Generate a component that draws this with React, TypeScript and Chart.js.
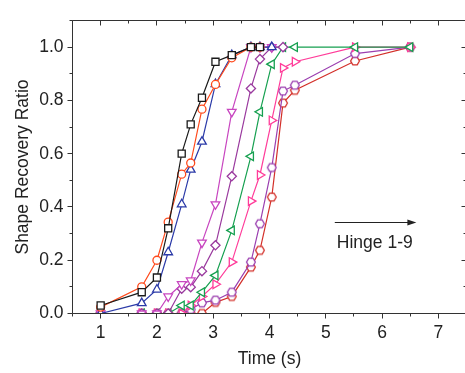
import React, { useEffect, useRef } from 'react';
import { Chart, registerables } from 'chart.js';

Chart.register(...registerables);

// ---- data ----
const TIMES = [1, 1.73, 2.0, 2.2, 2.44, 2.6, 2.8, 3.04, 3.33, 3.67, 3.83, 4.04, 4.24, 4.45, 5.52, 6.5];
const HINGE_1 = [0.03, 0.08, 0.135, 0.32, 0.6, 0.71, 0.81, 0.945, 0.97, 1.0, 1.0, null, null, null, null, null];
const HINGE_2 = [0.024, 0.1, 0.2, 0.343, 0.523, 0.565, 0.767, 0.86, 0.96, 1.0, 1.0, null, null, null, null, null];
const HINGE_3 = [0, 0.039, 0.09, 0.23, 0.41, 0.54, 0.645, 0.861, 0.97, 1.0, 1.0, 1.0, null, null, null, null];
const HINGE_4 = [0, 0, 0, 0.064, 0.11, 0.124, 0.266, 0.41, 0.757, 1.0, 1.0, 1.0, null, null, null, null];
const HINGE_5 = [0, 0, 0, 0, 0.093, 0.099, 0.159, 0.256, 0.515, 0.845, 0.955, 1.0, 1.0, null, null, null];
const HINGE_6 = [0, 0, 0, 0, 0.03, 0.03, 0.08, 0.143, 0.312, 0.59, 0.757, 0.936, 1.0, 1.0, 1.0, 1.0];
const HINGE_7 = [0, 0, 0, 0, 0, 0.03, 0.064, 0.11, 0.193, 0.422, 0.52, 0.725, 0.922, 0.945, 1.0, 1.0];
const HINGE_8 = [0, 0, 0, 0, 0, 0.015, 0.04, 0.05, 0.08, 0.193, 0.337, 0.548, 0.835, 0.857, 0.976, 1.0];
const HINGE_9 = [0, 0, 0, 0, 0, 0, 0, 0.042, 0.064, 0.174, 0.237, 0.437, 0.79, 0.838, 0.948, 1.0];

const SERIES_NAMES = ['Hinge 1', 'Hinge 2', 'Hinge 3', 'Hinge 4', 'Hinge 5', 'Hinge 6', 'Hinge 7', 'Hinge 8', 'Hinge 9'];
const X_TICK_LABELS = ['1', '2', '3', '4', '5', '6', '7'];
const Y_TICK_LABELS = ['0.0', '0.2', '0.4', '0.6', '0.8', '1.0'];
const X_TITLE = 'Time (s)';
const Y_TITLE = 'Shape Recovery Ratio';
const ANNOTATION_TEXT = 'Hinge 1-9';
const ARROW_FROM = [5.16, 0.342];
const ARROW_TO = [6.61, 0.342];
const ANNOTATION_AT = [5.87, 0.265];

// ---- styles ----
const FONT_FAMILY = '"Liberation Sans", Arial, sans-serif';
const TEXT_COLOR = '#222';
const AXIS_COLOR = '#333';
const COLORS = ['#1a1a1a', '#ff4a1c', '#2b3aa8', '#c846c0', '#9a3a9e', '#16a050', '#ff3d9a', '#9b3fb0', '#d3302a'];

function hexagon(color: string): HTMLCanvasElement {
  const c = document.createElement('canvas');
  c.width = 12;
  c.height = 12;
  const g = c.getContext('2d')!;
  g.beginPath();
  for (let i = 0; i < 6; i++) {
    const a = (Math.PI / 3) * i;
    const px = 6 + 4.4 * Math.cos(a);
    const py = 6 + 4.4 * Math.sin(a);
    if (i === 0) g.moveTo(px, py);
    else g.lineTo(px, py);
  }
  g.closePath();
  g.fillStyle = '#fff';
  g.fill();
  g.lineWidth = 1.3;
  g.strokeStyle = color;
  g.stroke();
  return c;
}

const crisp = (v: number) => Math.round(v - 0.5) + 0.5;

const framePlugin = {
  id: 'frame',
  afterDraw(chart: any) {
    const { ctx, chartArea } = chart;
    const { left, right, top, bottom } = chartArea;
    const xs = chart.scales.x;
    const ys = chart.scales.y;
    ctx.save();
    ctx.strokeStyle = AXIS_COLOR;
    ctx.lineWidth = 1;
    ctx.beginPath();
    ctx.rect(crisp(left), crisp(top), crisp(right) - crisp(left), crisp(bottom) - crisp(top));
    ctx.stroke();
    ctx.beginPath();
    xs.ticks.forEach((t: any) => {
      const major = Math.abs(t.value - Math.round(t.value)) < 1e-6;
      const len = major ? 5 : 3;
      const px = crisp(xs.getPixelForValue(t.value));
      ctx.moveTo(px, crisp(bottom));
      ctx.lineTo(px, crisp(bottom) + len);
      ctx.moveTo(px, crisp(top));
      ctx.lineTo(px, crisp(top) + len);
    });
    ys.ticks.forEach((t: any) => {
      const k = Math.round(t.value * 10);
      const len = k % 2 === 0 ? 5 : 3;
      const py = crisp(ys.getPixelForValue(t.value));
      ctx.moveTo(crisp(left) - len, py);
      ctx.lineTo(crisp(left), py);
      ctx.moveTo(crisp(right) - len, py);
      ctx.lineTo(crisp(right), py);
    });
    ctx.stroke();

    // annotation arrow
    const ax1 = xs.getPixelForValue(ARROW_FROM[0]);
    const ax2 = xs.getPixelForValue(ARROW_TO[0]);
    const ay = crisp(ys.getPixelForValue(ARROW_FROM[1]));
    ctx.strokeStyle = TEXT_COLOR;
    ctx.beginPath();
    ctx.moveTo(ax1, ay);
    ctx.lineTo(ax2 - 6, ay);
    ctx.stroke();
    ctx.fillStyle = TEXT_COLOR;
    ctx.beginPath();
    ctx.moveTo(ax2, ay);
    ctx.lineTo(ax2 - 9, ay - 3);
    ctx.lineTo(ax2 - 9, ay + 3);
    ctx.closePath();
    ctx.fill();

    ctx.font = `17.5px ${FONT_FAMILY}`;
    ctx.textAlign = 'center';
    ctx.textBaseline = 'middle';
    ctx.fillText(ANNOTATION_TEXT, xs.getPixelForValue(ANNOTATION_AT[0]), ys.getPixelForValue(ANNOTATION_AT[1]));
    ctx.restore();
  },
};

export default function App() {
  const ref = useRef<HTMLCanvasElement | null>(null);

  useEffect(() => {
    if (!ref.current) return;
    const seriesValues = [HINGE_1, HINGE_2, HINGE_3, HINGE_4, HINGE_5, HINGE_6, HINGE_7, HINGE_8, HINGE_9];
    const styles: any[] = ['rect', 'circle', 'triangle', 'triangle', 'rectRot', 'triangle', 'triangle', hexagon(COLORS[7]), hexagon(COLORS[8])];
    const rotations = [0, 0, 0, 180, 0, 270, 90, 0, 0];
    const radii = [5, 4, 5, 5, 4.6, 5, 5, 4.5, 4.5];

    const datasets = seriesValues.map((vals, i) => ({
      label: SERIES_NAMES[i],
      data: TIMES.map((t, j) => ({ x: t, y: vals[j] })),
      borderColor: COLORS[i],
      backgroundColor: '#fff',
      borderWidth: 1.2,
      pointStyle: styles[i],
      pointRotation: rotations[i],
      pointRadius: radii[i],
      pointBorderWidth: 1.3,
      pointBorderColor: COLORS[i],
      pointBackgroundColor: '#fff',
      spanGaps: false,
      tension: 0,
    }));

    const chart = new Chart(ref.current, {
      type: 'line',
      data: { datasets },
      plugins: [framePlugin],
      options: {
        responsive: false,
        animation: false,
        layout: { padding: { left: 0, top: 20.5, right: 13.5, bottom: 0 } },
        plugins: { legend: { display: false }, tooltip: { enabled: false } },
        scales: {
          x: {
            type: 'linear',
            min: 0.5,
            max: 7.5,
            afterFit: (s: any) => {
              s.height = 59.5;
            },
            border: { display: false },
            grid: { display: true, drawOnChartArea: false, drawTicks: true, tickLength: 5, tickColor: 'rgba(0,0,0,0)' },
            ticks: {
              stepSize: 0.5,
              autoSkip: false,
              maxRotation: 0,
              padding: 4,
              color: TEXT_COLOR,
              font: { family: FONT_FAMILY, size: 17.5 },
              callback: (v: any) => {
                const n = Math.round(Number(v) * 2);
                if (n % 2 !== 0) return '';
                const s = String(n / 2);
                return X_TICK_LABELS.includes(s) ? s : '';
              },
            },
            title: {
              display: true,
              text: X_TITLE,
              color: TEXT_COLOR,
              font: { family: FONT_FAMILY, size: 17.5 },
              padding: { top: 0, bottom: 3 },
            },
          },
          y: {
            type: 'linear',
            min: 0,
            max: 1.1,
            afterFit: (s: any) => {
              s.width = 72.5;
            },
            border: { display: false },
            grid: { display: true, drawOnChartArea: false, drawTicks: true, tickLength: 5, tickColor: 'rgba(0,0,0,0)' },
            ticks: {
              stepSize: 0.1,
              autoSkip: false,
              padding: 4,
              color: TEXT_COLOR,
              font: { family: FONT_FAMILY, size: 17.5 },
              callback: (v: any) => {
                const k = Math.round(Number(v) * 10);
                if (k % 2 !== 0) return '';
                const s = (k / 10).toFixed(1);
                return Y_TICK_LABELS.includes(s) ? s : '';
              },
            },
            title: {
              display: true,
              text: Y_TITLE,
              color: TEXT_COLOR,
              font: { family: FONT_FAMILY, size: 17.5 },
              padding: { top: 12.5, bottom: 0 },
            },
          },
        },
      },
    });
    return () => chart.destroy();
  }, []);

  return (
    <canvas
      ref={ref}
      width={480}
      height={373}
      style={{ position: 'fixed', left: 0, top: 0, width: 480, height: 373, background: '#fff' }}
    />
  );
}
